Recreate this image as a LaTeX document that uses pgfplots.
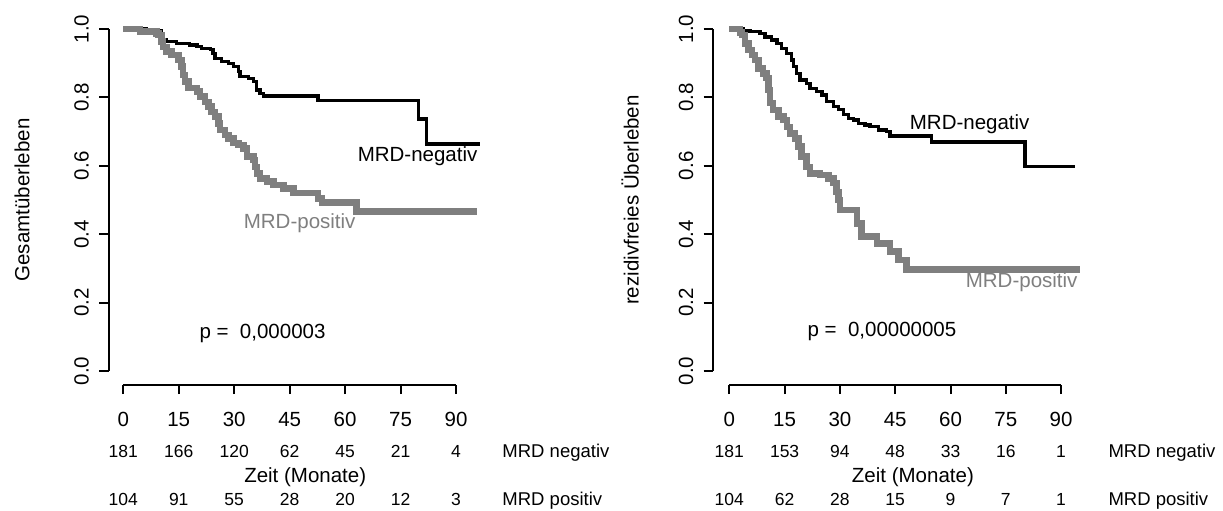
\documentclass[border=0pt]{standalone}
\usepackage{fontspec}
\setmainfont{Liberation Sans}
\usepackage{pgfplots}
\pgfplotsset{compat=1.18}
\definecolor{kmgrey}{RGB}{127,127,127}
\newcommand{\fntA}{\fontsize{20.5}{24}\selectfont}
\newcommand{\fntB}{\fontsize{17.5}{21}\selectfont}
\newcommand{\fntC}{\fontsize{18.5}{22}\selectfont}
\pgfplotsset{kmaxis/.style={
  scale only axis, height=369.4pt,
  ymin=-0.04, ymax=1.04,
  axis x line*=bottom, axis y line*=left,
  axis line style={draw=none},
  xtick={0,15,30,45,60,75,90},
  xticklabels={0,15,30,45,60,75,90},
  ytick={0,0.2,0.4,0.6,0.8,1},
  yticklabels={0.0,0.2,0.4,0.6,0.8,1.0},
  tick align=outside,
  major tick length=9.5pt,
  tick style={black, line width=2pt},
  tick label style={font=\fntA, inner sep=0pt},
  xticklabel style={anchor=north, yshift=-18pt},
  yticklabel style={rotate=90, anchor=base},
  yticklabel shift=10.5pt,
  clip=false,
}}
\begin{document}
\begin{tikzpicture}
\path[use as bounding box] (0,0) rectangle (1223pt,-511pt);
% ---------------- left panel ----------------
\begin{axis}[kmaxis, at={(108.5pt,-384.7pt)}, anchor=south west,
  width=393.4pt, xmin=-4.0, xmax=102.4]
\addplot[const plot, black, line width=3.3pt] coordinates {
(0,1) (6.3,0.995) (10.4,0.968) (11.7,0.963) (14.4,0.958) (18.0,0.953) (19.9,0.948)
(21.2,0.943) (23.5,0.939) (24.3,0.929) (24.8,0.914) (26.6,0.904) (28.4,0.899)
(29.8,0.890) (31.1,0.875) (31.6,0.861) (33.8,0.856) (35.2,0.846) (36.1,0.822)
(37.0,0.812) (37.9,0.804) (52.7,0.790) (79.8,0.737) (82.0,0.664) (96.5,0.664)};
\addplot[const plot, kmgrey, line width=6.5pt] coordinates {
(0,1) (4.5,0.992) (9.0,0.987) (9.5,0.982) (10.4,0.963) (10.8,0.948) (11.7,0.934)
(13.1,0.924) (14.9,0.909) (15.8,0.890) (16.2,0.865) (16.7,0.846) (17.6,0.827)
(19.9,0.817) (20.7,0.802) (22.1,0.787) (23.0,0.773) (23.9,0.758) (24.8,0.744)
(25.7,0.724) (26.2,0.705) (27.5,0.690) (28.4,0.680) (29.8,0.666) (31.1,0.661)
(32.5,0.651) (33.4,0.627) (35.2,0.617) (35.6,0.597) (36.1,0.578) (37.0,0.563)
(38.8,0.554) (40.6,0.544) (43.3,0.534) (46.0,0.520) (52.7,0.505) (53.7,0.492)
(63.1,0.466) (95.6,0.466)};
\draw[line width=2pt] (axis cs:0,-0.04) -- (axis cs:90,-0.04);
\draw[line width=2pt] (axis cs:-4.0,0) -- (axis cs:-4.0,1);
\node[rotate=90, font=\fntA] at (axis cs:-27.4,0.5) {Gesamtüberleben};
\node[font=\fntA, anchor=base] at (axis cs:79.6,0.612) {MRD-negativ};
\node[font=\fntA, anchor=base, text=kmgrey] at (axis cs:47.7,0.416) {MRD-positiv};
\node[font=\fntA, anchor=base] at (axis cs:37.65,0.0955) {p =\ \ 0,000003};
\node[font=\fntA, anchor=base] at (axis cs:49.2,-0.326) {Zeit (Monate)};
\node[font=\fntB, anchor=base] at (axis cs:0,-0.2515) {181};
\node[font=\fntB, anchor=base] at (axis cs:15,-0.2515) {166};
\node[font=\fntB, anchor=base] at (axis cs:30,-0.2515) {120};
\node[font=\fntB, anchor=base] at (axis cs:45,-0.2515) {62};
\node[font=\fntB, anchor=base] at (axis cs:60,-0.2515) {45};
\node[font=\fntB, anchor=base] at (axis cs:75,-0.2515) {21};
\node[font=\fntB, anchor=base] at (axis cs:90,-0.2515) {4};
\node[font=\fntB, anchor=base] at (axis cs:0,-0.392) {104};
\node[font=\fntB, anchor=base] at (axis cs:15,-0.392) {91};
\node[font=\fntB, anchor=base] at (axis cs:30,-0.392) {55};
\node[font=\fntB, anchor=base] at (axis cs:45,-0.392) {28};
\node[font=\fntB, anchor=base] at (axis cs:60,-0.392) {20};
\node[font=\fntB, anchor=base] at (axis cs:75,-0.392) {12};
\node[font=\fntB, anchor=base] at (axis cs:90,-0.392) {3};
\node[font=\fntC, anchor=base west] at (axis cs:101.6,-0.2515) {MRD negativ};
\node[font=\fntC, anchor=base west] at (axis cs:101.6,-0.392) {MRD positiv};
\end{axis}
% ---------------- right panel ----------------
\begin{axis}[kmaxis, at={(713.1pt,-384.7pt)}, anchor=south west,
  width=399.6pt, xmin=-4.4, xmax=104]
\addplot[const plot, black, line width=3.3pt] coordinates {
(0,1) (3.8,0.995) (5.6,0.992) (8.3,0.987) (9.7,0.977) (11.5,0.968) (12.9,0.958)
(14.2,0.943) (15.6,0.929) (16.9,0.909) (17.4,0.890) (18.3,0.870) (19.2,0.851)
(21.0,0.841) (21.9,0.827) (23.7,0.817) (25.1,0.807) (26.4,0.787) (28.2,0.773)
(29.6,0.765) (30.9,0.749) (32.3,0.739) (33.6,0.734) (35.0,0.724) (36.8,0.719)
(38.2,0.714) (40.4,0.705) (42.7,0.700) (43.6,0.687) (54.9,0.670) (80.2,0.597)
(93.8,0.597)};
\addplot[const plot, kmgrey, line width=6.5pt] coordinates {
(0,1) (2.9,0.990) (3.4,0.982) (4.3,0.958) (5.2,0.939) (6.1,0.924) (7.0,0.909)
(7.9,0.885) (9.2,0.870) (10.1,0.856) (10.6,0.822) (11.0,0.783) (11.9,0.763)
(13.3,0.744) (14.7,0.734) (15.6,0.714) (16.5,0.695) (17.8,0.680) (18.7,0.656)
(19.6,0.627) (21.0,0.597) (21.9,0.578) (24.6,0.573) (26.9,0.563) (28.2,0.549)
(29.1,0.524) (29.6,0.500) (30.0,0.471) (34.6,0.432) (35.9,0.393) (40.0,0.373)
(43.6,0.349) (45.9,0.325) (48.1,0.297) (95.1,0.297)};
\draw[line width=2pt] (axis cs:0,-0.04) -- (axis cs:90,-0.04);
\draw[line width=2pt] (axis cs:-4.4,0) -- (axis cs:-4.4,1);
\node[rotate=90, font=\fntA] at (axis cs:-26.9,0.5) {rezidivfreies Überleben};
\node[font=\fntA, anchor=base] at (axis cs:65.2,0.705) {MRD-negativ};
\node[font=\fntA, anchor=base, text=kmgrey] at (axis cs:79.3,0.245) {MRD-positiv};
\node[font=\fntA, anchor=base] at (axis cs:41.4,0.100) {p =\ \ 0,00000005};
\node[font=\fntA, anchor=base] at (axis cs:49.8,-0.326) {Zeit (Monate)};
\node[font=\fntB, anchor=base] at (axis cs:0,-0.2515) {181};
\node[font=\fntB, anchor=base] at (axis cs:15,-0.2515) {153};
\node[font=\fntB, anchor=base] at (axis cs:30,-0.2515) {94};
\node[font=\fntB, anchor=base] at (axis cs:45,-0.2515) {48};
\node[font=\fntB, anchor=base] at (axis cs:60,-0.2515) {33};
\node[font=\fntB, anchor=base] at (axis cs:75,-0.2515) {16};
\node[font=\fntB, anchor=base] at (axis cs:90,-0.2515) {1};
\node[font=\fntB, anchor=base] at (axis cs:0,-0.392) {104};
\node[font=\fntB, anchor=base] at (axis cs:15,-0.392) {62};
\node[font=\fntB, anchor=base] at (axis cs:30,-0.392) {28};
\node[font=\fntB, anchor=base] at (axis cs:45,-0.392) {15};
\node[font=\fntB, anchor=base] at (axis cs:60,-0.392) {9};
\node[font=\fntB, anchor=base] at (axis cs:75,-0.392) {7};
\node[font=\fntB, anchor=base] at (axis cs:90,-0.392) {1};
\node[font=\fntC, anchor=base west] at (axis cs:101.9,-0.2515) {MRD negativ};
\node[font=\fntC, anchor=base west] at (axis cs:101.9,-0.392) {MRD positiv};
\end{axis}
\end{tikzpicture}
\end{document}
